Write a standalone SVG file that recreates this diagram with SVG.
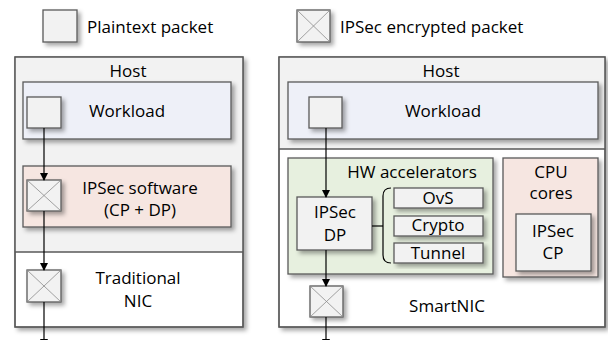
<svg xmlns="http://www.w3.org/2000/svg" width="608" height="340" viewBox="0 0 608 340">
<defs>
<filter id="sh" x="-20%" y="-20%" width="150%" height="150%">
<feDropShadow dx="3" dy="3" stdDeviation="2.2" flood-color="#000" flood-opacity="0.35"/>
</filter>
<marker id="ah" markerWidth="8" markerHeight="8" refX="7" refY="4" orient="auto" markerUnits="userSpaceOnUse">
<path d="M0,0 L8,4 L0,8 Z" fill="#000"/>
</marker>
</defs>
<style>
text{font-family:"Open Sans","Liberation Sans",sans-serif;font-size:17px;fill:#000;text-anchor:middle}
.l{text-anchor:start}
.box{stroke:#595959;stroke-width:1.3}
.pk{fill:#f2f2f2;stroke:#595959;stroke-width:1.3}
.x{stroke:#8c8c8c;stroke-width:0.8;fill:none}
.wire{stroke:#000;stroke-width:1.2;fill:none}
</style>

<g id="legend">
<rect class="pk" x="43" y="10" width="34" height="32" filter="url(#sh)"/>
<text class="l" x="87" y="33">Plaintext packet</text>
<rect class="pk" x="297" y="10" width="33" height="32" filter="url(#sh)"/>
<path class="x" d="M297,10 L330,42 M330,10 L297,42"/>
<text class="l" x="340" y="33">IPSec encrypted packet</text>
</g>

<g id="left-panel">
<rect class="box" x="15" y="57" width="228" height="270" fill="#ffffff" filter="url(#sh)"/>
<rect x="15.6" y="57.6" width="226.8" height="194.4" fill="#f2f2f2"/>
<rect class="box" x="15" y="57" width="228" height="270" fill="none"/>
<line class="box" x1="15" y1="252" x2="243" y2="252"/>
<text x="128" y="77">Host</text>
</g>

<g id="left-workload">
<rect class="box" x="23" y="82" width="208" height="57" fill="#eef0f8" filter="url(#sh)"/>
<text x="127" y="117">Workload</text>
</g>

<g id="left-ipsec-sw">
<rect class="box" x="23" y="166" width="208" height="61" fill="#f6e6e1" filter="url(#sh)"/>
<text x="140" y="194">IPSec software</text>
<text x="140" y="216">(CP + DP)</text>
</g>

<g id="left-nic">
<text x="138" y="284">Traditional</text>
<text x="138" y="307">NIC</text>
</g>

<g id="right-panel">
<rect class="box" x="279" y="57" width="326" height="270" fill="#ffffff" filter="url(#sh)"/>
<rect x="279.6" y="57.6" width="324.8" height="91.4" fill="#f2f2f2"/>
<rect class="box" x="279" y="57" width="326" height="270" fill="none"/>
<line class="box" x1="279" y1="149" x2="605" y2="149"/>
<text x="441" y="77">Host</text>
<text x="447" y="312">SmartNIC</text>
</g>

<g id="right-workload">
<rect class="box" x="288" y="82" width="310" height="57" fill="#eef0f8" filter="url(#sh)"/>
<text x="443" y="117">Workload</text>
</g>

<g id="hw-accel">
<rect class="box" x="288" y="158" width="205" height="116" fill="#e7f0df" filter="url(#sh)"/>
<text x="412" y="178">HW accelerators</text>
</g>

<g id="cpu-cores">
<rect class="box" x="503" y="158" width="95" height="119" fill="#f6e6e1" filter="url(#sh)"/>
<text x="551" y="178">CPU</text>
<text x="551" y="199">cores</text>
</g>

<g id="ipsec-cp">
<rect class="box" x="516" y="214" width="75" height="57" fill="#f2f2f2" filter="url(#sh)"/>
<text x="553" y="237">IPSec</text>
<text x="553" y="259">CP</text>
</g>

<g id="ipsec-dp">
<rect class="box" x="297" y="197" width="75" height="53" fill="#f2f2f2" filter="url(#sh)"/>
<text x="335" y="218">IPSec</text>
<text x="335" y="241">DP</text>
</g>

<g id="ovs">
<rect class="box" x="394" y="188" width="89" height="20" fill="#f2f2f2" filter="url(#sh)"/>
<text x="438" y="204">OvS</text>
</g>
<g id="crypto">
<rect class="box" x="394" y="216" width="89" height="20" fill="#f2f2f2" filter="url(#sh)"/>
<text x="438" y="231">Crypto</text>
</g>
<g id="tunnel">
<rect class="box" x="394" y="243" width="89" height="20" fill="#f2f2f2" filter="url(#sh)"/>
<text x="438" y="259">Tunnel</text>
</g>

<g id="packets">
<rect class="pk" x="27" y="97" width="34" height="31" filter="url(#sh)"/>
<rect class="pk" x="27" y="180" width="34" height="31" filter="url(#sh)"/>
<path class="x" d="M27,180 L61,211 M61,180 L27,211"/>
<rect class="pk" x="27" y="270" width="34" height="32" filter="url(#sh)"/>
<path class="x" d="M27,270 L61,302 M61,270 L27,302"/>
<rect class="pk" x="309" y="97" width="33" height="31" filter="url(#sh)"/>
<rect class="pk" x="310" y="286" width="33" height="31" filter="url(#sh)"/>
<path class="x" d="M310,286 L343,317 M343,286 L310,317"/>
</g>

<g id="connectors">
<line class="wire" x1="44" y1="128" x2="44" y2="180" marker-end="url(#ah)"/>
<line class="wire" x1="44" y1="211" x2="44" y2="270" marker-end="url(#ah)"/>
<line class="wire" x1="44" y1="302" x2="44" y2="346" marker-end="url(#ah)"/>
<line class="wire" x1="326" y1="128" x2="326" y2="197" marker-end="url(#ah)"/>
<line class="wire" x1="326" y1="250" x2="326" y2="286" marker-end="url(#ah)"/>
<line class="wire" x1="326" y1="317" x2="326" y2="346" marker-end="url(#ah)"/>
<path class="wire" d="M391,188 Q383,188 383,196 L383,255 Q383,263 391,263"/>
<line class="wire" x1="372" y1="226" x2="383" y2="226"/>
</g>
</svg>
